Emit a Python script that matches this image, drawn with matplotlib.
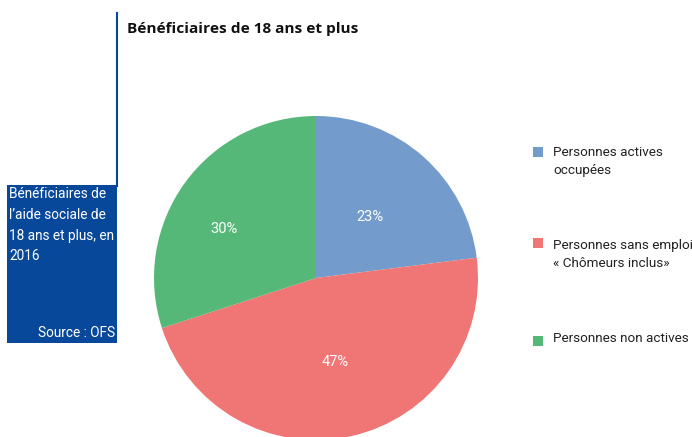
# 円グラフ: 18歳以上の受給者
import numpy as np
import matplotlib.pyplot as plt
from matplotlib.patches import Rectangle

W, H = 692, 437
FONT = ["Roboto", "DejaVu Sans"]

# データ
labels = ["Personnes actives\noccupées", "Personnes sans emploi\n« Chômeurs inclus»", "Personnes non actives"]
values = [23, 47, 30]
colors = ["#739CCD", "#EF7674", "#56B878"]

title = "Bénéficiaires de 18 ans et plus"
box_text = "Bénéficiaires de\nl’aide sociale de\n18 ans et plus, en\n2016"
source = "Source : OFS"
DARK_BLUE = "#08489A"

# ラベルの位置 (中心からの距離, 角度のずれ)
PCT_DIST = [0.5, 0.53, 0.64]
PCT_SHIFT = [0, 0, 8]


def fx(x):
    return x / W


def fy(y):
    return 1 - y / H


def main():
    plt.rcParams["font.family"] = FONT
    fig = plt.figure(figsize=(W / 100, H / 100), dpi=100)

    # 円グラフ本体 (中心 316,278 半径 162)
    cx, cy, r = 316, 278, 162
    ax = fig.add_axes([fx(cx - r), fy(cy + r), 2 * r / W, 2 * r / H])
    wedges, _, autotexts = ax.pie(values, colors=colors, startangle=90, counterclock=False,
                                  autopct="%d%%", wedgeprops=dict(linewidth=0))
    for w, t, d, s in zip(wedges, autotexts, PCT_DIST, PCT_SHIFT):
        ang = np.deg2rad((w.theta1 + w.theta2) / 2 + s)
        t.set_position((d * np.cos(ang), d * np.sin(ang)))
        t.set_color("white")
        t.set_fontsize(10.5)
    ax.set_xlim(-1, 1)
    ax.set_ylim(-1, 1)

    # タイトル
    fig.text(fx(127), fy(29), title, fontsize=11.1, fontweight="bold", va="center", ha="left",
             color="#111111", family=["Open Sans", "DejaVu Sans"])

    # 左側の縦線と青いボックス
    fig.add_artist(plt.Line2D([fx(117), fx(117)], [fy(13), fy(186)], color=DARK_BLUE, lw=1.5))
    fig.add_artist(Rectangle((fx(7), fy(343)), fx(117 - 7), (343 - 185) / H, color=DARK_BLUE, lw=0))
    fig.text(fx(9), fy(187), box_text, fontsize=9.8, color="white", va="top", ha="left",
             linespacing=1.62)
    fig.text(fx(115), fy(333), source, fontsize=9.8, color="white", va="center", ha="right")

    # 凡例
    leg_y = [152, 243, 341]
    text_y = [155, 248, 341]
    for lab, col, y, ty in zip(labels, colors, leg_y, text_y):
        fig.add_artist(Rectangle((fx(533), fy(y + 5)), fx(10), 10 / H, color=col, lw=0))
        fig.text(fx(553), fy(ty - 9), lab, fontsize=9.7, color="#222222", va="top", ha="left",
                 linespacing=1.52)

    fig.savefig("out.png", dpi=100)


if __name__ == "__main__":
    main()
